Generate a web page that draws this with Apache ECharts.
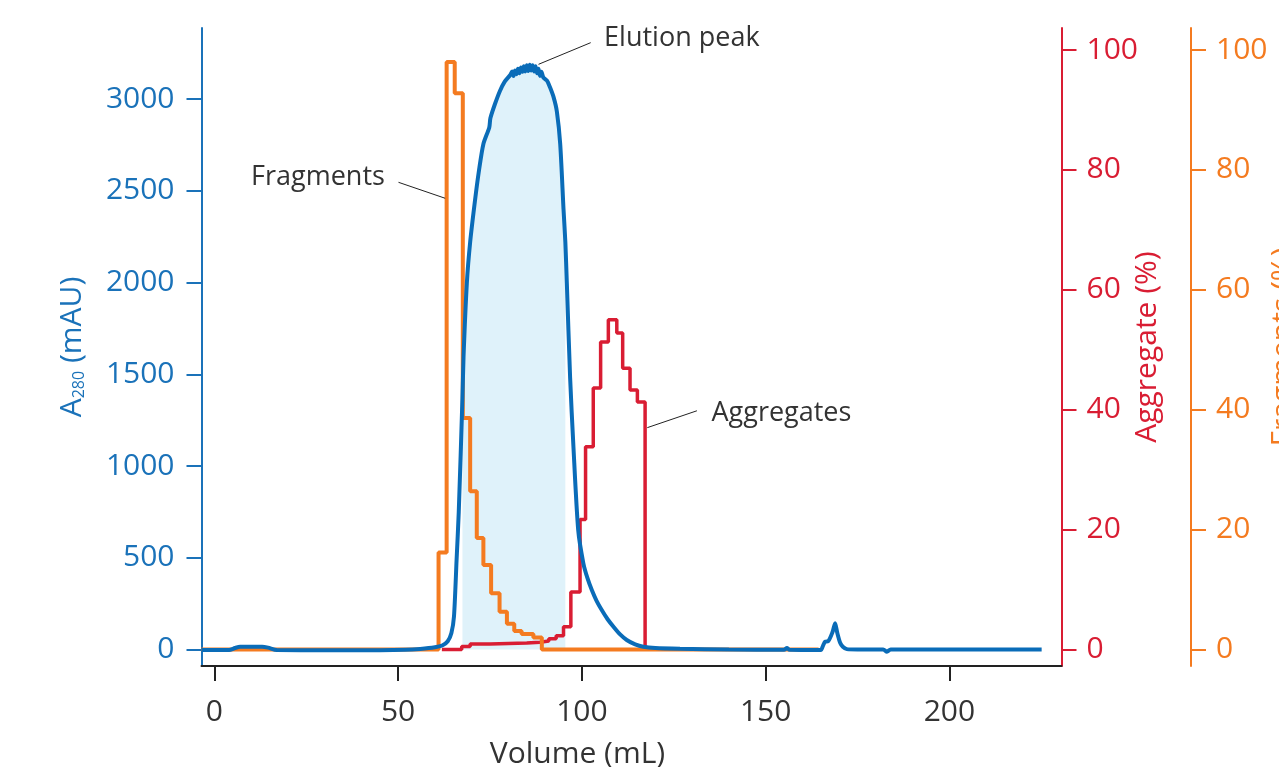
<!DOCTYPE html>
<html>
<head>
<meta charset="utf-8">
<script src="https://cdn.jsdelivr.net/npm/echarts@6/dist/echarts.min.js"></script>
<style>
html,body{margin:0;padding:0;background:#fff;}
#chart{width:1279px;height:767px;}
</style>
</head>
<body>
<div id="chart"></div>
<script>
// ---- data ----
const volumeTicks = [0, 50, 100, 150, 200];
const a280Ticks = [0, 500, 1000, 1500, 2000, 2500, 3000];
const pctTicks = [0, 20, 40, 60, 80, 100];

// A280 trace (mL, mAU)
const a280Vol = [-3.5, 4, 5.6, 7, 13, 14.6, 17, 30, 45, 52, 56, 60, 62, 63.5, 64.5, 65.2, 65.9, 66.5, 67.5, 67.8, 68.7, 69.6, 70.9, 72, 73.2, 74.8, 75.1, 76.3, 77.7, 79, 80.5, 81, 81.4, 81.8, 82.2, 82.6, 83, 83.4, 83.8, 84.2, 84.6, 85, 85.4, 85.8, 86.2, 86.6, 87, 87.4, 87.8, 88.2, 88.6, 89, 89.5, 90.5, 91.3, 92.3, 93.2, 94.1, 95.0, 95.5, 95.9, 96.8, 97.7, 99.0, 100.4, 101.5, 102.7, 104, 105.4, 107, 108.6, 110.4, 112.2, 114.5, 116.7, 120, 126.7, 140, 155, 155.8, 156.5, 165, 165.6, 166.2, 167, 168.2, 168.9, 169.5, 170.3, 171, 172.1, 175, 182, 183, 184, 200, 225.1];
const a280Val = [-3, -3, 8, 15, 15, 10, -3, -4, -4, -2, 3, 12, 22, 45, 90, 180, 485, 750, 1370, 1597, 1997, 2220, 2444, 2610, 2755, 2845, 2895, 2970, 3044, 3095, 3131, 3150, 3125, 3155, 3135, 3165, 3140, 3172, 3148, 3178, 3150, 3184, 3152, 3186, 3155, 3184, 3150, 3178, 3140, 3165, 3125, 3148, 3118, 3100, 3065, 3010, 2931, 2755, 2400, 2220, 2000, 1480, 1105, 651, 470, 390, 324, 265, 215, 165, 124, 82, 52, 28, 15, 8, 4, 0, -2, 8, -2, -3, 20, 43, 45, 95, 143, 90, 35, 15, 2, 0, 0, -12, 0, 0, 0];

// pooled elution window (mL)
const poolRange = [67.5, 95.5];

// Aggregate % (step trace)
const aggVol = [61.9, 67.3, 69.6, 75, 80, 85, 88.6, 91, 93, 95.0, 97.0, 99.5, 101.0, 103.1, 105.1, 107.2, 109.5, 111.1, 113.1, 115.1, 117.2];
const aggPct = [0, 0.5, 0.9, 1.0, 1.1, 1.2, 1.4, 1.8, 2.3, 3.8, 9.6, 21.7, 33.8, 43.6, 51.3, 55.0, 52.8, 46.9, 43.3, 41.3, 0.2];

// Fragments % (step trace)
const fragVol = [-3.5, 61.0, 63.2, 65.4, 67.6, 69.6, 71.4, 73.2, 75.3, 77.6, 79.6, 81.6, 83.6, 86.8, 89.1, 164.4];
const fragPct = [0, 16.2, 98.0, 92.8, 38.6, 26.4, 18.6, 14.1, 9.4, 6.3, 4.3, 3.1, 2.6, 2.0, 0, 0];

// ---- build ----
const BLUE = '#0a6cb8', BLUE_T = '#1a72b9', RED = '#d91d33', ORANGE = '#f47b20', FILL = '#dff2fa', INK = '#333333';
const FONT = 'Open Sans';
const zip = (a, b) => a.map((v, i) => [v, b[i]]);
const a280 = zip(a280Vol, a280Val);
const pool = a280.filter(p => p[0] >= poolRange[0] && p[0] <= poolRange[1]);
const plain = v => String(v);

const chart = echarts.init(document.getElementById('chart'), null, {renderer: 'canvas'});
const option = {
  animation: false,
  textStyle: {fontFamily: FONT},
  grid: {left: 201.5, right: 217.5, top: 28, bottom: 101, containLabel: false, outerBoundsMode: 'none'},
  xAxis: {
    type: 'value', min: -3.5, max: 230.5,
    axisLine: {show: true, onZero: false, lineStyle: {color: '#222', width: 2}},
    axisTick: {show: true, length: 15, customValues: volumeTicks, lineStyle: {color: '#222', width: 2}},
    axisLabel: {customValues: volumeTicks, formatter: plain, color: INK, fontSize: 30, margin: 31, fontFamily: FONT},
    splitLine: {show: false},
    name: 'Volume (mL)', nameLocation: 'middle', nameGap: 73, nameMoveOverlap: false,
    nameTextStyle: {color: INK, fontSize: 30, fontFamily: FONT, padding: [0, 108, 0, 0]}
  },
  yAxis: [
    {
      type: 'value', position: 'left', min: -89.9, max: 3386.9,
      axisLine: {show: true, onZero: false, lineStyle: {color: BLUE_T, width: 2}},
      axisTick: {show: true, length: 15, customValues: a280Ticks, lineStyle: {color: BLUE_T, width: 2}},
      axisLabel: {customValues: a280Ticks, formatter: plain, color: BLUE_T, fontSize: 30, margin: 27, fontFamily: FONT},
      splitLine: {show: false},
      name: '{a|A}{s|280}{a| (mAU)}', nameLocation: 'middle', nameGap: 114, nameMoveOverlap: false,
      nameTextStyle: {
        color: BLUE_T, fontFamily: FONT,
        rich: {
          a: {fontSize: 30, color: BLUE_T, fontFamily: FONT, lineHeight: 30},
          s: {fontSize: 16, color: BLUE_T, fontFamily: FONT, verticalAlign: 'bottom', lineHeight: 30, padding: [12, 0, 0, 0]}
        }
      }
    },
    {
      type: 'value', position: 'right', offset: 0, min: -2.752, max: 103.67,
      axisLine: {show: true, onZero: false, lineStyle: {color: RED, width: 2}},
      axisTick: {show: true, length: 15, customValues: pctTicks, lineStyle: {color: RED, width: 2}},
      axisLabel: {customValues: pctTicks, formatter: plain, color: RED, fontSize: 30, margin: 25, fontFamily: FONT},
      splitLine: {show: false},
      name: 'Aggregate (%)', nameLocation: 'middle', nameGap: 71, nameMoveOverlap: false,
      nameTextStyle: {color: RED, fontSize: 30, fontFamily: FONT}
    },
    {
      type: 'value', position: 'right', offset: 129.5, min: -2.752, max: 103.67,
      axisLine: {show: true, onZero: false, lineStyle: {color: ORANGE, width: 2}},
      axisTick: {show: true, length: 15, customValues: pctTicks, lineStyle: {color: ORANGE, width: 2}},
      axisLabel: {customValues: pctTicks, formatter: plain, color: ORANGE, fontSize: 30, margin: 25, fontFamily: FONT},
      splitLine: {show: false},
      name: 'Fragments (%)', nameLocation: 'middle', nameGap: 77, nameMoveOverlap: false,
      nameTextStyle: {color: ORANGE, fontSize: 30, fontFamily: FONT}
    }
  ],
  series: [
    {
      name: 'pool', type: 'line', yAxisIndex: 0, data: pool, showSymbol: false, smooth: 0.25,
      lineStyle: {width: 0, opacity: 0}, areaStyle: {color: FILL, opacity: 1, origin: 0}, silent: true, z: 1
    },
    {
      name: 'Aggregate', type: 'line', yAxisIndex: 1, data: zip(aggVol, aggPct), step: 'end',
      showSymbol: false, lineStyle: {color: RED, width: 3.5}, z: 2
    },
    {
      name: 'Fragments', type: 'line', yAxisIndex: 2, data: zip(fragVol, fragPct), step: 'end',
      showSymbol: false, lineStyle: {color: ORANGE, width: 4}, z: 3
    },
    {
      name: 'A280', type: 'line', yAxisIndex: 0, data: a280, showSymbol: false, smooth: 0.25,
      lineStyle: {color: BLUE, width: 4}, z: 4,
      markLine: {
        silent: true, symbol: ['none', 'none'], animation: false,
        label: {show: false},
        lineStyle: {color: '#222', width: 1, type: 'solid'},
        emphasis: {disabled: true},
        data: [
          [{coord: [50.1, 2546]}, {coord: [62.8, 2459]}],
          [{coord: [88.2, 3189]}, {coord: [102.4, 3307]}],
          [{coord: [117.8, 1209]}, {coord: [131.3, 1301]}]
        ]
      },
      markPoint: {
        silent: true, symbol: 'circle', symbolSize: 0, animation: false,
        label: {show: true, position: 'inside', color: INK, fontSize: 27, fontFamily: FONT, formatter: '{b}'},
        data: [
          {name: 'Fragments', coord: [28.2, 2572]},
          {name: 'Elution peak', coord: [127.2, 3330]},
          {name: 'Aggregates', coord: [154.3, 1286]}
        ]
      }
    }
  ]
};
chart.setOption(option);
</script>
</body>
</html>
